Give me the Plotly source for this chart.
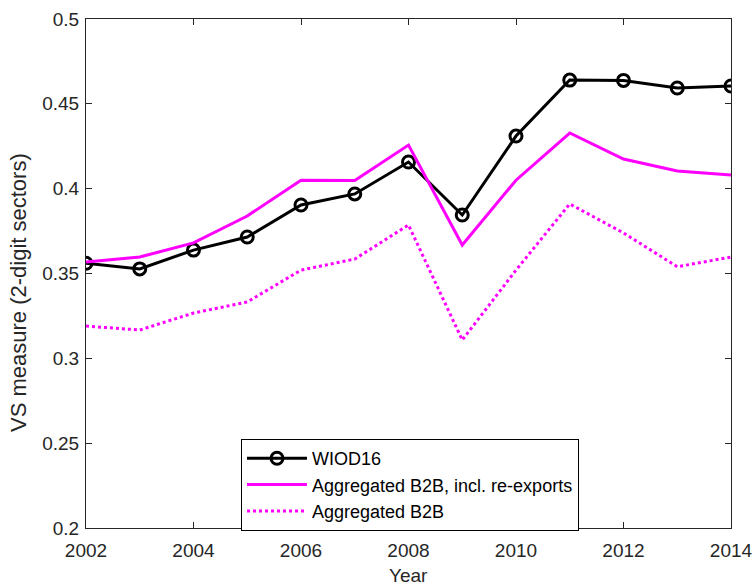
import plotly.graph_objects as go

years = list(range(2002, 2015))
wiod16 = [0.356, 0.3527, 0.3638, 0.3715, 0.3904, 0.3969, 0.4157, 0.3845, 0.431, 0.464, 0.4638, 0.4593, 0.4605]
b2b_reexp = [0.3568, 0.3597, 0.368, 0.3839, 0.405, 0.4048, 0.4257, 0.3668, 0.405, 0.4328, 0.4175, 0.4104, 0.408]
b2b = [0.319, 0.3167, 0.3267, 0.3332, 0.352, 0.3585, 0.3786, 0.3108, 0.352, 0.391, 0.3739, 0.354, 0.3597]

x_ticks = [2002, 2004, 2006, 2008, 2010, 2012, 2014]
y_ticks = [0.2, 0.25, 0.3, 0.35, 0.4, 0.45, 0.5]
y_ticklabels = ["0.2", "0.25", "0.3", "0.35", "0.4", "0.45", "0.5"]

FONT = "Liberation Sans, Arial"
TXT = "#262626"
fig = go.Figure()
fig.add_trace(go.Scatter(x=years, y=wiod16, mode="lines+markers", name="WIOD16",
                         line=dict(color="black", width=3),
                         marker=dict(symbol="circle-open", size=12, color="black",
                                     line=dict(width=3, color="black"))))
fig.add_trace(go.Scatter(x=years, y=b2b_reexp, mode="lines", name="Aggregated B2B, incl. re-exports",
                         line=dict(color="#ff00ff", width=3)))
fig.add_trace(go.Scatter(x=years, y=b2b, mode="lines", name="Aggregated B2B",
                         line=dict(color="#ff00ff", width=3, dash="dot")))

axis_common = dict(showline=True, linecolor=TXT, linewidth=1, mirror="allticks",
                   ticks="inside", ticklen=6, tickcolor=TXT, showgrid=False,
                   zeroline=False, automargin=False,
                   tickfont=dict(family=FONT, size=19, color=TXT))

fig.update_xaxes(range=[2002, 2014], tickvals=x_ticks, ticktext=[str(t) for t in x_ticks],
                 ticklabelstandoff=5, **axis_common)
fig.update_yaxes(range=[0.2, 0.5], tickvals=y_ticks, ticktext=y_ticklabels,
                 ticklabelstandoff=2, **axis_common)

fig.add_annotation(text="Year", xref="paper", yref="paper", x=0.5, y=(528 - 575) / 509,
                   xanchor="center", yanchor="middle", showarrow=False,
                   font=dict(family=FONT, size=19, color=TXT))
fig.add_annotation(text="VS measure (2-digit sectors)", xref="paper", yref="paper",
                   x=(18 - 86) / 645, y=(528 - 293) / 509, textangle=-90,
                   xanchor="center", yanchor="middle", showarrow=False,
                   font=dict(family=FONT, size=22, color=TXT))

fig.update_layout(
    width=755, height=587,
    margin=dict(l=86, r=24, t=19, b=59),
    plot_bgcolor="white", paper_bgcolor="white",
    font=dict(family=FONT, size=15, color="black"),
    legend=dict(x=(241 - 86) / 645, y=(528 - 439) / 509, xanchor="left", yanchor="top",
                bordercolor="black", borderwidth=1, bgcolor="white",
                font=dict(family=FONT, size=18, color="black"),
                tracegroupgap=0, itemwidth=60),
    showlegend=True,
)

fig.write_html("out.html")
